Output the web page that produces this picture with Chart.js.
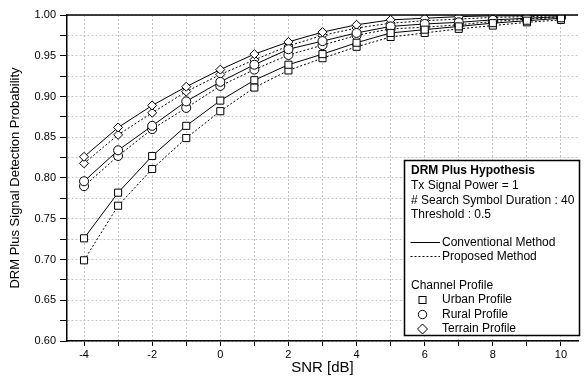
<!DOCTYPE html>
<html>
<head>
<meta charset="utf-8">
<script src="https://cdn.jsdelivr.net/npm/chart.js@4/dist/chart.umd.min.js"></script>
<style>
  html, body { margin: 0; padding: 0; background: #fff; }
  #c { display: block; }
</style>
</head>
<body>
<canvas id="c" width="584" height="378"></canvas>
<script>
// SNR axis (dB)
var snr = [-4, -3, -2, -1, 0, 1, 2, 3, 4, 5, 6, 7, 8, 9, 10];

// detection probability
var urbanConv   = [0.726, 0.782, 0.827, 0.864, 0.895, 0.920, 0.939, 0.952, 0.966, 0.978, 0.982, 0.986, 0.990, 0.993, 0.996];
var urbanProp   = [0.699, 0.766, 0.811, 0.849, 0.882, 0.911, 0.932, 0.947, 0.961, 0.973, 0.978, 0.983, 0.987, 0.991, 0.994];
var ruralConv   = [0.796, 0.834, 0.864, 0.894, 0.918, 0.939, 0.958, 0.968, 0.978, 0.986, 0.989, 0.991, 0.994, 0.996, 0.998];
var ruralProp   = [0.790, 0.827, 0.860, 0.886, 0.913, 0.933, 0.951, 0.963, 0.975, 0.983, 0.985, 0.988, 0.992, 0.995, 0.997];
var terrainConv = [0.826, 0.862, 0.889, 0.912, 0.933, 0.952, 0.967, 0.979, 0.988, 0.994, 0.996, 0.998, 0.999, 0.999, 1.000];
var terrainProp = [0.818, 0.853, 0.880, 0.906, 0.927, 0.945, 0.962, 0.975, 0.984, 0.990, 0.993, 0.995, 0.997, 0.998, 0.999];

var legendInfo = ['Tx Signal Power = 1', '# Search Symbol Duration : 40', 'Threshold : 0.5'];
var profiles = ['Urban Profile', 'Rural Profile', 'Terrain Profile'];

var FONT = "'Liberation Sans', Arial, sans-serif";
Chart.defaults.font.family = FONT;
Chart.defaults.color = '#000';

function pts(arr) {
    return snr.map(function (x, i) { return {x: x, y: arr[i]}; });
}

function ds(label, arr, style, dashed) {
    return {
        label: label,
        data: pts(arr),
        borderColor: '#000',
        borderWidth: 1,
        borderDash: dashed ? [2, 2] : [],
        pointStyle: style,
        pointRadius: style === 'rect' ? 5 : 4.5,
        pointBorderColor: '#000',
        pointBackgroundColor: '#fff',
        pointBorderWidth: 1,
        fill: false,
        tension: 0
    };
}

// legend box + top frame line
var frame = {
    id: 'frame',
    afterDraw: function (chart) {
        var ctx = chart.ctx, a = chart.chartArea;
        ctx.save();
        ctx.strokeStyle = '#000';
        ctx.lineWidth = 1.5;
        ctx.beginPath();
        ctx.moveTo(a.left, a.top);
        ctx.lineTo(a.right, a.top);
        ctx.stroke();

        // legend
        var bx = 404.5, by = 160.5, bw = 175, bh = 175;
        ctx.fillStyle = '#fff';
        ctx.fillRect(bx, by, bw, bh);
        ctx.strokeRect(bx, by, bw, bh);

        ctx.fillStyle = '#000';
        ctx.textBaseline = 'middle';
        ctx.textAlign = 'left';
        ctx.font = 'bold 12px ' + FONT;
        ctx.fillText('DRM Plus Hypothesis', 411, 171);
        ctx.font = '12px ' + FONT;
        ctx.fillText(legendInfo[0], 411, 186);
        ctx.fillText(legendInfo[1], 411, 200.5);
        ctx.fillText(legendInfo[2], 411, 214.5);

        ctx.lineWidth = 1;
        ctx.beginPath();
        ctx.moveTo(410.5, 242.5); ctx.lineTo(440, 242.5);
        ctx.stroke();
        ctx.fillText('Conventional Method', 442, 242.5);
        ctx.setLineDash([2, 2]);
        ctx.beginPath();
        ctx.moveTo(410.5, 256.5); ctx.lineTo(440, 256.5);
        ctx.stroke();
        ctx.setLineDash([]);
        ctx.fillText('Proposed Method', 442, 256.5);

        ctx.fillText('Channel Profile', 411, 286);
        var mx = 422.5;
        ctx.strokeRect(mx - 3.5, 300 - 3.5, 7, 7);
        ctx.fillText(profiles[0], 442, 300);
        ctx.beginPath();
        ctx.arc(mx, 314.5, 4.2, 0, Math.PI * 2);
        ctx.stroke();
        ctx.fillText(profiles[1], 442, 314.5);
        ctx.beginPath();
        ctx.moveTo(mx, 324); ctx.lineTo(mx + 5, 329);
        ctx.lineTo(mx, 334); ctx.lineTo(mx - 5, 329);
        ctx.closePath();
        ctx.stroke();
        ctx.fillText(profiles[2], 442, 329);
        ctx.restore();
    }
};

new Chart(document.getElementById('c'), {
    type: 'line',
    data: {
        datasets: [
            ds('Urban Conventional', urbanConv, 'rect', false),
            ds('Urban Proposed', urbanProp, 'rect', true),
            ds('Rural Conventional', ruralConv, 'circle', false),
            ds('Rural Proposed', ruralProp, 'circle', true),
            ds('Terrain Conventional', terrainConv, 'rectRot', false),
            ds('Terrain Proposed', terrainProp, 'rectRot', true)
        ]
    },
    options: {
        responsive: false,
        animation: false,
        devicePixelRatio: 1,
        layout: { padding: { left: 0, top: 15, right: 0, bottom: 0 } },
        plugins: { legend: { display: false }, tooltip: { enabled: false } },
        scales: {
            x: {
                type: 'linear',
                min: -4.5,
                max: 10.5,
                afterFit: function (s) { s.height = 37; },
                afterBuildTicks: function (s) {
                    s.ticks = snr.map(function (v) { return {value: v}; });
                },
                ticks: {
                    autoSkip: false,
                    maxRotation: 0,
                    padding: 2,
                    font: { size: 11 },
                    callback: function (v) { return (Math.round(v) % 2 === 0) ? String(v) : ''; }
                },
                grid: { color: '#c4c4c4', lineWidth: 1, tickLength: 5, tickColor: '#000', tickBorderDash: [] },
                border: { color: '#000', width: 1.5, dash: [2, 2] },
                title: { display: true, text: 'SNR [dB]', font: { size: 15 }, padding: { top: 0, bottom: 1 } }
            },
            y: {
                min: 0.6,
                max: 1.0,
                afterFit: function (s) { s.width = 67; },
                ticks: {
                    stepSize: 0.025,
                    includeBounds: false,
                    padding: 4,
                    font: { size: 11 },
                    callback: function (v) {
                        var m = Math.round(v * 1000);
                        return (m % 50 === 0) ? (m / 1000).toFixed(2) : '';
                    }
                },
                grid: { color: '#c4c4c4', lineWidth: 1, tickLength: 7, tickColor: '#000', tickBorderDash: [] },
                border: { color: '#000', width: 1.5, dash: [2, 2] },
                title: { display: true, text: 'DRM Plus Signal Detection Probability', font: { size: 13 }, padding: { top: 8, bottom: 0 } }
            }
        }
    },
    plugins: [frame]
});
</script>
</body>
</html>
